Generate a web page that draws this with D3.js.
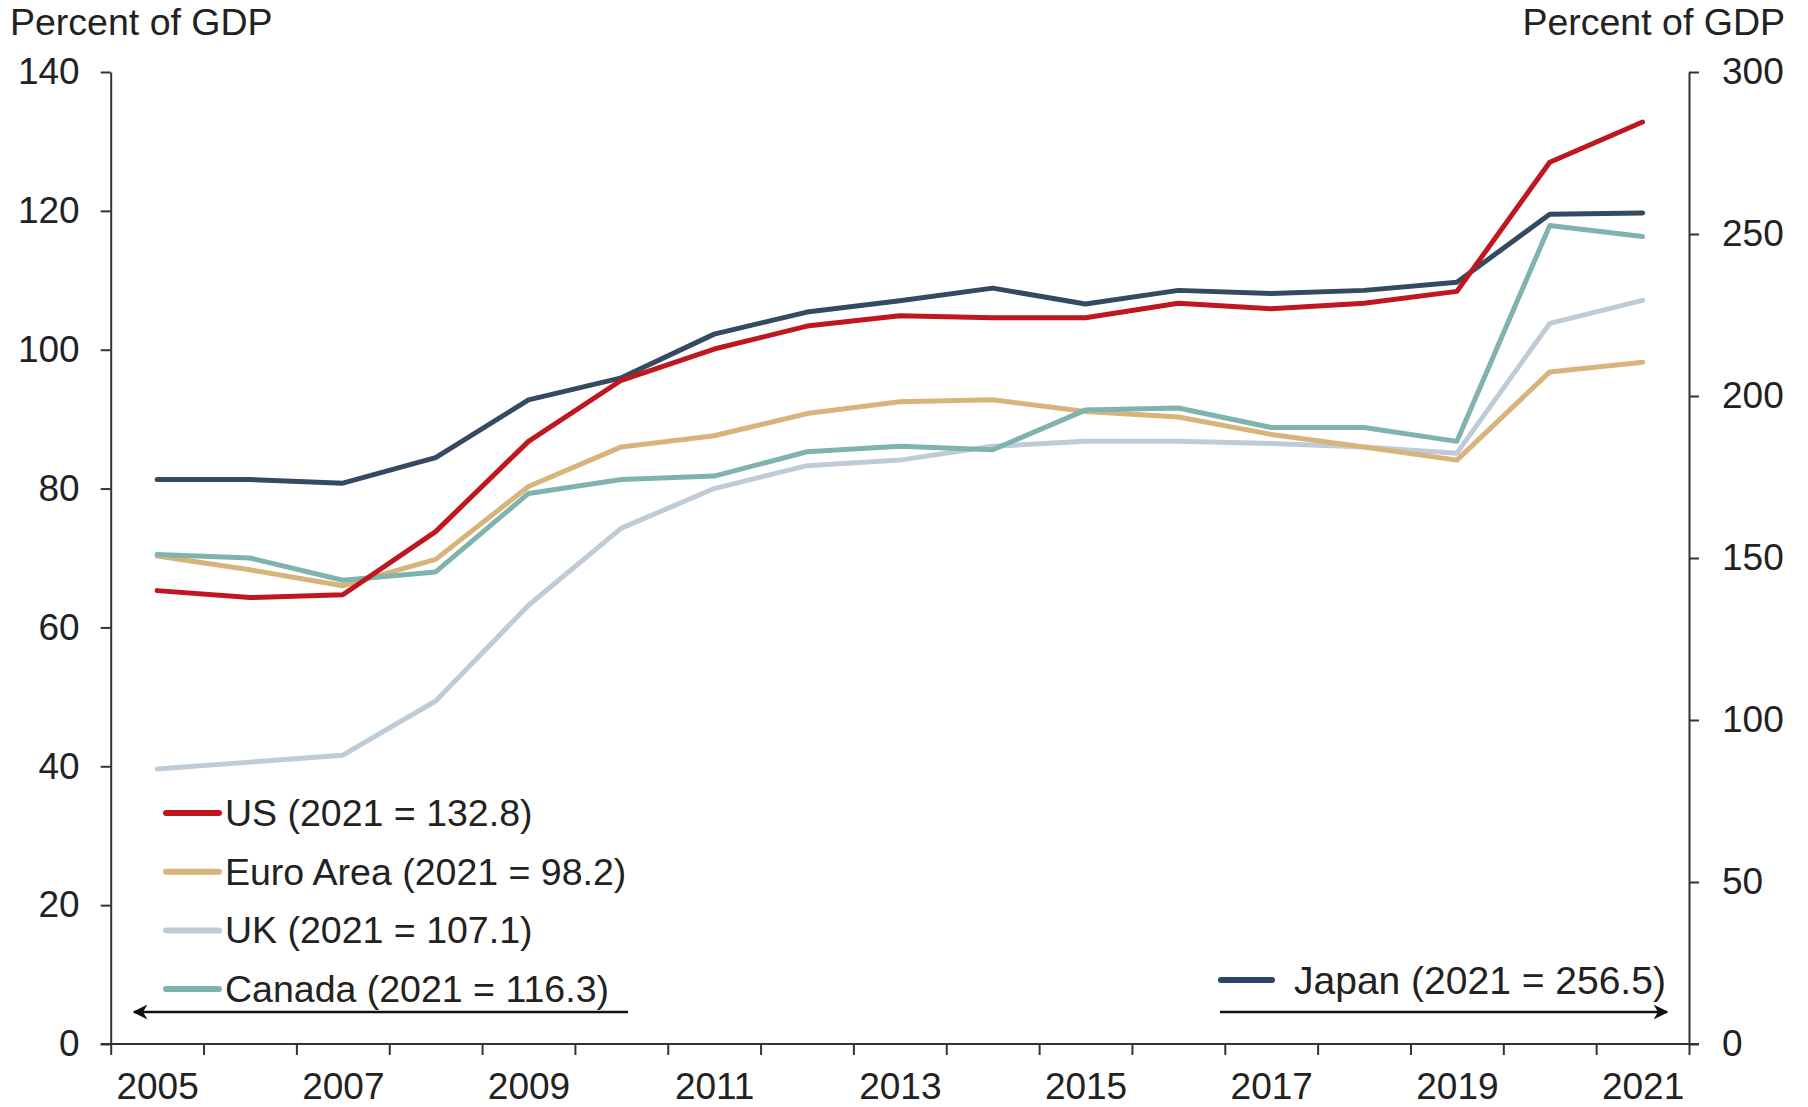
<!DOCTYPE html>
<html>
<head>
<meta charset="utf-8">
<script src="https://cdn.jsdelivr.net/npm/d3@7"></script>
<style>
    body { margin: 0; background: #fff; }
    text { font-family: "Liberation Sans", Arial, sans-serif; fill: #222; }
    .axis path, .axis line { stroke: #333; stroke-width: 2; }
</style>
</head>
<body>
<svg id="chart" width="1808" height="1107"></svg>
<script>
const years = [2005, 2006, 2007, 2008, 2009, 2010, 2011, 2012, 2013, 2014, 2015, 2016, 2017, 2018, 2019, 2020, 2021];
const yearLabels = [2005, 2007, 2009, 2011, 2013, 2015, 2017, 2019, 2021];

// left axis series
const us = [65.3, 64.3, 64.7, 73.8, 86.8, 95.6, 100.1, 103.4, 104.9, 104.6, 104.6, 106.7, 105.9, 106.7, 108.4, 127.0, 132.8];
const euroArea = [70.3, 68.3, 66.0, 69.8, 80.3, 86.0, 87.6, 90.8, 92.5, 92.8, 91.1, 90.3, 87.8, 86.0, 84.1, 96.8, 98.2];
const uk = [39.6, 40.6, 41.6, 49.4, 63.2, 74.3, 80.0, 83.3, 84.1, 86.1, 86.8, 86.8, 86.5, 86.0, 85.1, 103.8, 107.1];
const canada = [70.5, 70.0, 66.8, 68.0, 79.3, 81.3, 81.8, 85.3, 86.1, 85.6, 91.3, 91.6, 88.8, 88.8, 86.8, 117.9, 116.3];
// right axis series
const japan = [174.2, 174.2, 173.1, 181.0, 198.8, 205.6, 219.1, 225.9, 229.4, 233.3, 228.4, 232.6, 231.6, 232.6, 235.1, 256.1, 256.5];

const leftTicks = [0, 20, 40, 60, 80, 100, 120, 140];
const rightTicks = [0, 50, 100, 150, 200, 250, 300];

const series = [
    { name: "UK (2021 = 107.1)", values: uk, color: "#bfcbd7", axis: "left" },
    { name: "Euro Area (2021 = 98.2)", values: euroArea, color: "#d8b37a", axis: "left" },
    { name: "Canada (2021 = 116.3)", values: canada, color: "#7fb3ad", axis: "left" },
    { name: "Japan (2021 = 256.5)", values: japan, color: "#344a61", axis: "right" },
    { name: "US (2021 = 132.8)", values: us, color: "#c0161f", axis: "left" }
];
const leftLegend = ["US (2021 = 132.8)", "Euro Area (2021 = 98.2)", "UK (2021 = 107.1)", "Canada (2021 = 116.3)"];

const svg = d3.select("#chart");
const plotLeft = 110.7, plotRight = 1689, plotTop = 72, plotBottom = 1044;

const x = d3.scaleLinear().domain([2004.5, 2021.5]).range([plotLeft, plotRight]);
const yL = d3.scaleLinear().domain([0, 140]).range([plotBottom, plotTop]);
const yR = d3.scaleLinear().domain([0, 300]).range([plotBottom, plotTop]);

svg.append("defs").append("marker")
    .attr("id", "arrow")
    .attr("viewBox", "0 0 10 10")
    .attr("refX", 9).attr("refY", 5)
    .attr("markerWidth", 6).attr("markerHeight", 6)
    .attr("markerUnits", "strokeWidth")
    .attr("orient", "auto-start-reverse")
    .append("path")
    .attr("d", "M0,0 L10,5 L0,10 L3,5 Z")
    .attr("fill", "#111");

// axes
svg.append("g")
    .attr("class", "axis")
    .attr("transform", `translate(${plotLeft},0)`)
    .call(d3.axisLeft(yL).tickValues(leftTicks).tickSize(10).tickPadding(21).tickSizeOuter(0))
    .call(g => g.selectAll("text").style("font-size", "37px").attr("fill", "#222"));

svg.append("g")
    .attr("class", "axis")
    .attr("transform", `translate(${plotRight},0)`)
    .call(d3.axisRight(yR).tickValues(rightTicks).tickSize(10).tickPadding(23).tickSizeOuter(0))
    .call(g => g.selectAll("text").style("font-size", "37px").attr("fill", "#222"));

svg.append("g")
    .attr("class", "axis")
    .attr("transform", `translate(0,${plotBottom})`)
    .call(d3.axisBottom(x).tickValues(d3.range(2004.5, 2022, 1)).tickSize(11).tickFormat("").tickSizeOuter(0))
    .call(g => g.select(".domain").attr("d", `M${plotLeft - 10},0H${plotRight + 10}`));

svg.append("g")
    .attr("transform", `translate(0,${plotBottom})`)
    .call(d3.axisBottom(x).tickValues(yearLabels).tickSize(0).tickPadding(29).tickFormat(d3.format("d")))
    .call(g => g.select(".domain").remove())
    .call(g => g.selectAll("text").style("font-size", "37px").attr("fill", "#222"));

// axis titles
svg.append("text").attr("x", 10).attr("y", 35).style("font-size", "37.5px").text("Percent of GDP");
svg.append("text").attr("x", 1785).attr("y", 35).attr("text-anchor", "end").style("font-size", "37.5px").text("Percent of GDP");

// lines
series.forEach(s => {
    const yScale = s.axis === "left" ? yL : yR;
    const line = d3.line()
        .x((d, i) => x(years[i]))
        .y(d => yScale(d));
    svg.append("path")
        .datum(s.values)
        .attr("fill", "none")
        .attr("stroke", s.color)
        .attr("stroke-width", 5)
        .attr("stroke-linejoin", "round")
        .attr("stroke-linecap", "round")
        .attr("d", line);
});

// legend left
const legendL = svg.append("g");
leftLegend.forEach((name, i) => {
    const s = series.find(d => d.name === name);
    const cy = 813 + i * 58.7;
    legendL.append("line")
        .attr("x1", 166).attr("x2", 219).attr("y1", cy).attr("y2", cy)
        .attr("stroke", s.color).attr("stroke-width", 6).attr("stroke-linecap", "round");
    legendL.append("text")
        .attr("x", 225).attr("y", cy + 13)
        .style("font-size", "37.5px")
        .text(name);
});
svg.append("line")
    .attr("x1", 628).attr("x2", 134).attr("y1", 1012).attr("y2", 1012)
    .attr("stroke", "#111").attr("stroke-width", 2.5)
    .attr("marker-end", "url(#arrow)");

// legend right
const jp = series.find(d => d.axis === "right");
svg.append("line")
    .attr("x1", 1221).attr("x2", 1272).attr("y1", 980).attr("y2", 980)
    .attr("stroke", "#2a4468").attr("stroke-width", 6).attr("stroke-linecap", "round");
svg.append("text")
    .attr("x", 1294).attr("y", 994)
    .style("font-size", "39px")
    .text(jp.name);
svg.append("line")
    .attr("x1", 1220).attr("x2", 1667).attr("y1", 1012).attr("y2", 1012)
    .attr("stroke", "#111").attr("stroke-width", 2.5)
    .attr("marker-end", "url(#arrow)");
</script>
</body>
</html>
